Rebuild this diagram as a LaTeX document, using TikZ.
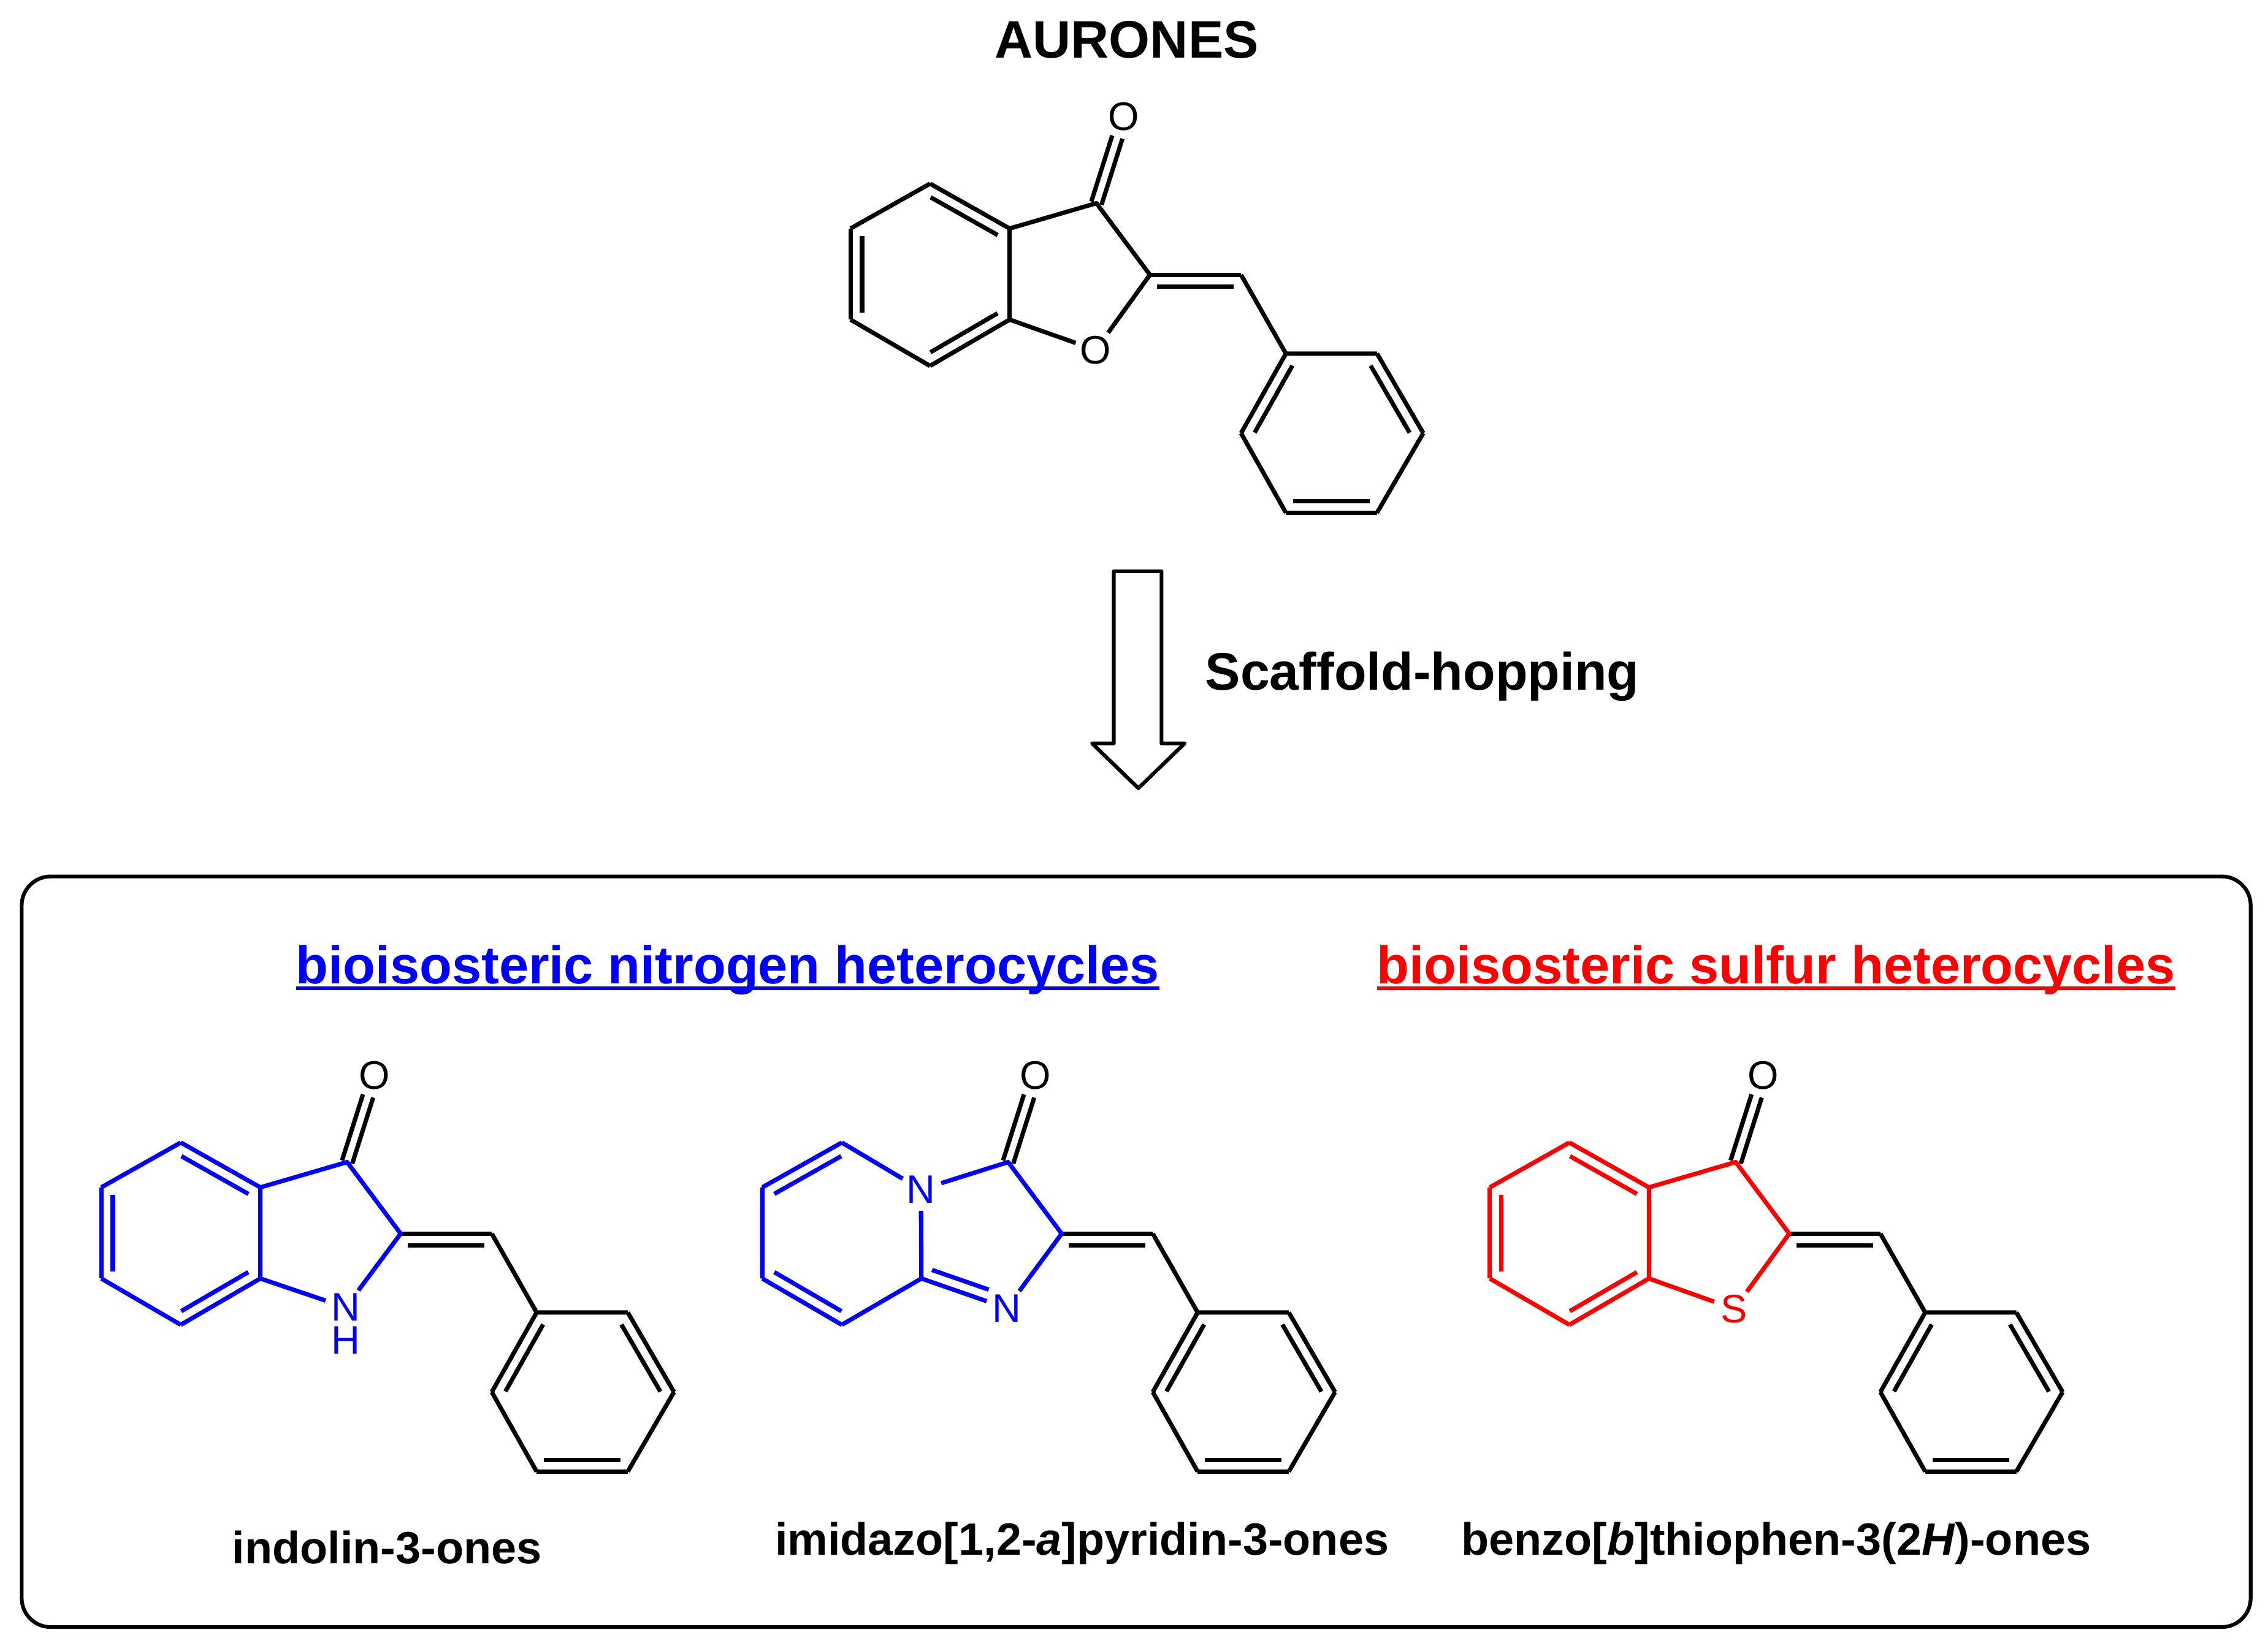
\documentclass[tikz,border=0pt]{standalone}
\usepackage{fontspec}
\setmainfont{Liberation Sans}
\usetikzlibrary{calc}
\definecolor{pureblue}{RGB}{0,0,255}
\definecolor{purered}{RGB}{255,0,0}
\newcommand\ulrule[1]{\setbox0\hbox{#1}\rlap{\rule[-4.5pt]{\wd0}{2.6pt}}\box0}
\tikzset{
  bond/.style={line width=3pt,line join=round},
  atom/.style={circle,inner sep=0pt,minimum size=29pt,font=\fontsize{27.5}{27.5}\selectfont},
  title/.style={inner sep=0pt,font=\fontsize{36.5}{36.5}\selectfont\bfseries},
  head/.style={inner sep=0pt,anchor=base,font=\fontsize{36.65}{36.65}\selectfont\bfseries},
  label/.style={inner sep=0pt,anchor=base,font=\fontsize{31.3}{31.3}\selectfont\bfseries},
}
% double bond: outer a--b, inner line on the right-hand side of a->b
\newcommand\dbl[2]{%
  \draw[bond] (#1) -- (#2);
  \draw[bond,shorten <=5pt,shorten >=5pt] ($(#1)!8pt!-90:(#2)$) -- ($(#2)!8pt!90:(#1)$);}
% coordinates shared by all four molecules (aurone frame)
\newcommand\molcoords[1]{%
  \coordinate (#1a1) at (643,127);
  \coordinate (#1a2) at (698,158);
  \coordinate (#1a3) at (698,221);
  \coordinate (#1a4) at (643,253);
  \coordinate (#1a5) at (588,221);
  \coordinate (#1a6) at (588,158);
  \coordinate (#1c3) at (758,140.5);
  \coordinate (#1c2) at (795,190);
  \coordinate (#1ch) at (858,190);
  \coordinate (#1p1) at (889,244.5);
  \coordinate (#1p2) at (952,244.5);
  \coordinate (#1p3) at (984,299.5);
  \coordinate (#1p4) at (952,354.5);
  \coordinate (#1p5) at (889,354.5);
  \coordinate (#1p6) at (858,299.5);
  \node[atom,black] (#1ox) at (777,80.5) {O};
}
% black part: carbonyl, exocyclic C=C, phenyl
\newcommand\moltail[1]{%
  \begin{scope}[black]
  \draw[bond,shorten >=15pt] ($(#1c3)!3.7pt!90:(#1ox)$) -- ($(#1ox)!3.7pt!-90:(#1c3)$);
  \draw[bond,shorten >=15pt] ($(#1c3)!3.7pt!-90:(#1ox)$) -- ($(#1ox)!3.7pt!90:(#1c3)$);
  \dbl{#1c2}{#1ch}
  \draw[bond] (#1ch) -- (#1p1) -- (#1p2) (#1p3) -- (#1p4) (#1p5) -- (#1p6);
  \dbl{#1p6}{#1p1}
  \dbl{#1p2}{#1p3}
  \dbl{#1p4}{#1p5}
  \end{scope}
}
% benzo ring
\newcommand\molbenzo[1]{%
  \dbl{#1a1}{#1a2}
  \dbl{#1a3}{#1a4}
  \dbl{#1a5}{#1a6}
  \draw[bond] (#1a2) -- (#1a3) (#1a4) -- (#1a5) (#1a6) -- (#1a1);
  \draw[bond] (#1a3) -- (#1x);
  \draw[bond] (#1x) -- (#1c2) -- (#1c3) -- (#1a2);
}
\begin{document}
\begin{tikzpicture}[x=1pt,y=-1pt]
\useasboundingbox (0,0) rectangle (1568,1136);

% titles
\node[title,anchor=base] (aurones) at (779,40) {AURONES};
\node[title,anchor=base west] (hop) at (833,477) {Scaffold-hopping};

% aurone
\begin{scope}
  \molcoords{A}
  \node[atom,black] (Ax) at (757.5,242) {O};
  \moltail{A}
  \begin{scope}[black] \molbenzo{A} \end{scope}
\end{scope}

% block arrow
\coordinate (ar1) at (770,395);
\coordinate (ar2) at (803,395);
\coordinate (ar3) at (803,514);
\coordinate (ar4) at (819,514);
\coordinate (ar5) at (787,545);
\coordinate (ar6) at (755,514);
\coordinate (ar7) at (770,514);
\draw[line width=2.6pt,line join=round] (ar1) -- (ar2) -- (ar3) -- (ar4) -- (ar5) -- (ar6) -- (ar7) -- cycle;

% frame
\draw[line width=2.6pt,rounded corners=20pt] (15,606) rectangle (1556,1125);

% headings
\node[head,pureblue] (hN) at (503,680) {\ulrule{bioisosteric nitrogen heterocycles}};
\node[head,purered] (hS) at (1228,680) {\ulrule{bioisosteric sulfur heterocycles}};

% indolin-3-one
\begin{scope}[shift={(-518,663)}]
  \molcoords{B}
  \moltail{B}
  \begin{scope}[pureblue]
    \node[atom] (Bx) at (757,241) {N\llap{\raisebox{-22.5pt}[0pt][0pt]{H}}};
    \molbenzo{B}
  \end{scope}
\end{scope}

% imidazo[1,2-a]pyridin-3-one
\begin{scope}[shift={(-61,663)}]
  \molcoords{C}
  \moltail{C}
  \begin{scope}[pureblue]
    \node[atom] (Cn) at (697.7,159.5) {N};
    \node[atom] (Cx) at (757,241.5) {N};
    \dbl{Ca6}{Ca1}
    \dbl{Ca4}{Ca5}
    \draw[bond] (Ca1) -- (Cn);
    \draw[bond] (Cn) -- (Cc3) -- (Cc2) -- (Cx);
    \draw[bond] (Cn) -- (Ca3);
    \draw[bond] (Ca3) -- (Ca4) (Ca5) -- (Ca6);
    \draw[bond] (Ca3) -- (Cx);
    \draw[bond,shorten <=16pt,shorten >=5pt] ($(Cx)!8pt!-90:(Ca3)$) -- ($(Ca3)!8pt!90:(Cx)$);
  \end{scope}
\end{scope}

% benzo[b]thiophen-3(2H)-one
\begin{scope}[shift={(442,663)}]
  \molcoords{D}
  \moltail{D}
  \begin{scope}[purered]
    \node[atom] (Dx) at (757,242) {S};
    \molbenzo{D}
  \end{scope}
\end{scope}

% captions
\node[label] (l1) at (267.5,1081) {indolin-3-ones};
\node[label] (l2) at (748,1075) {imidazo[1,2-\textit{a}]pyridin-3-ones};
\node[label] (l3) at (1228,1075) {benzo[\textit{b}]thiophen-3(2\textit{H})-ones};
\end{tikzpicture}
\end{document}
